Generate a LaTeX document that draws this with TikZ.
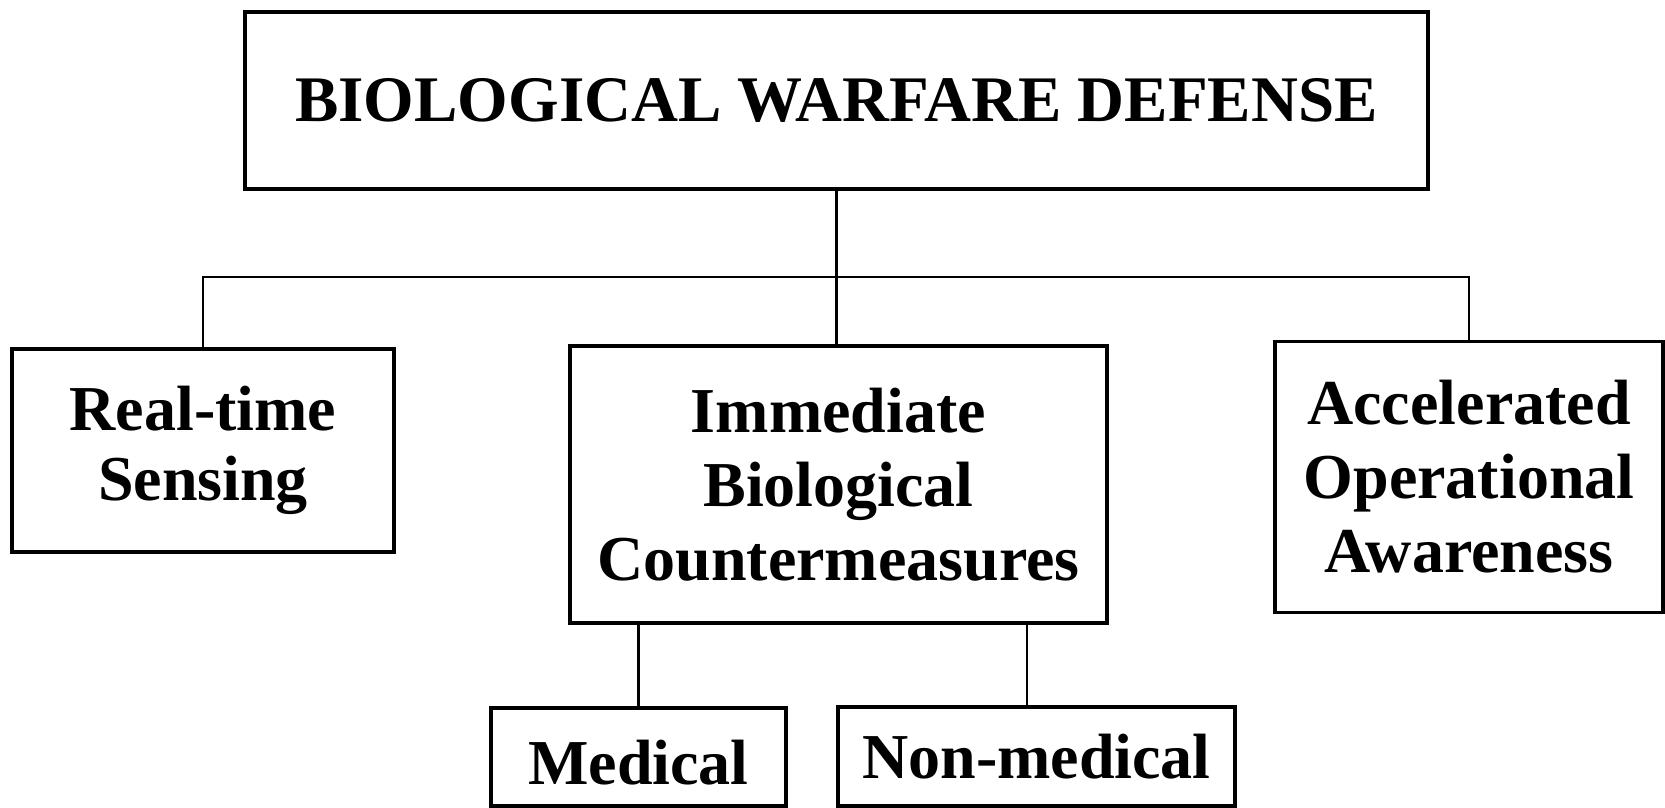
\documentclass[tikz,border=0pt]{standalone}
\usepackage{fontspec}
\setmainfont{Liberation Serif}
\newcommand\bfont{\fontsize{64}{74}\selectfont\bfseries}
\begin{document}
\begin{tikzpicture}[x=1pt,y=-1pt,
  box/.style={draw, line width=3.4pt, inner sep=0pt, align=center, font=\bfont},
  link/.style={draw, line width=2.9pt}]
\useasboundingbox (0,0) rectangle (1665,808);
% boxes
\node[box, minimum width=1183pt, minimum height=177pt, font=\fontsize{65}{74}\selectfont\bfseries] (top) at (836.5,100.5) {BIOLOGICAL WARFARE DEFENSE};
\node[box, minimum width=382pt, minimum height=203pt] (rt) at (203,450.5) {Real-time\\[-4pt]Sensing};
\node[box, minimum width=537pt, minimum height=277pt] (imm) at (838.5,484.5) {Immediate\\Biological\\Countermeasures};
\node[box, minimum width=388pt, minimum height=271pt] (acc) at (1469,477) {Accelerated\\Operational\\Awareness};
\node[box, minimum width=295pt, minimum height=98pt, text height=55pt] (med) at (638.5,757) {Medical};
\node[box, minimum width=397pt, minimum height=99pt] (nm) at (1036.5,756.5) {Non-medical};
% connectors
\coordinate (bus) at (0,277);
\coordinate (nmx) at (1027,0);
\draw[link] (top.south) -- (top.south |- imm.north);
\draw[link] (rt.north) -- (rt.north |- bus) -- (acc.north |- bus) -- (acc.north);
\draw[link] (imm.south -| med.north) -- (med.north);
\draw[link] (imm.south -| nmx) -- (nm.north -| nmx);
\end{tikzpicture}
\end{document}
